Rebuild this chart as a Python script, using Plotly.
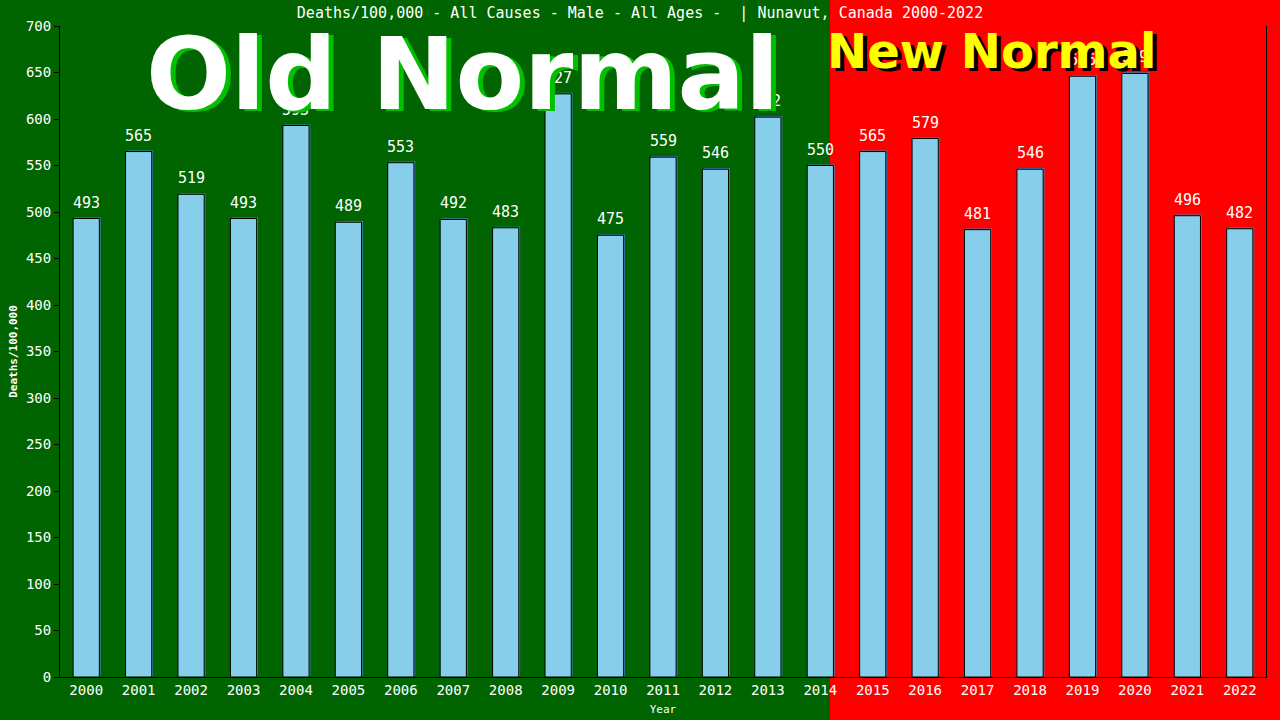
import plotly.graph_objects as go

years = [str(y) for y in range(2000, 2023)]
deaths = [493, 565, 519, 493, 593, 489, 553, 492, 483, 627, 475, 559,
          546, 602, 550, 565, 579, 481, 546, 646, 649, 496, 482]

title = "Deaths/100,000 - All Causes - Male - All Ages -  | Nunavut, Canada 2000-2022"
mono = "DejaVu Sans Mono"

fig = go.Figure()
# thin blue shadow behind each bar
fig.add_trace(go.Bar(x=years, y=deaths, base=1.2, width=0.5, offset=-0.225,
                     marker=dict(color="#4682B4", line=dict(width=0)),
                     hoverinfo="skip", showlegend=False))
fig.add_trace(go.Bar(x=years, y=deaths, width=0.5, offset=-0.25,
                     marker=dict(color="#87CEEB", line=dict(color="black", width=1)),
                     showlegend=False))

# value labels above the bars (category index as x)
for i, v in enumerate(deaths):
    fig.add_annotation(x=i, y=v, text=str(v), showarrow=False, yanchor="bottom",
                       yshift=5, font=dict(family=mono, size=15, color="white"))

# red "new normal" area, from just before the 2015 bar to the right edge
split = (830 - 60) / 1206
fig.add_shape(type="rect", xref="paper", yref="paper", x0=split, x1=1.2,
              y0=-0.2, y1=1.2, fillcolor="#FF0000", line_width=0, layer="below")

def big_text(txt, x, y, size, color, shadow, dx, dy, anchor):
    for c, ox, oy in [(shadow, dx, dy), (color, 0, 0)]:
        fig.add_annotation(text="<b>%s</b>" % txt, xref="paper", yref="paper",
                           x=x, y=y, xanchor=anchor, yanchor="middle",
                           xshift=ox, yshift=-oy, showarrow=False,
                           font=dict(family="DejaVu Sans", size=size, color=c))

big_text("Old Normal", (462 - 60) / 1206, (677 - 74) / 651, 100, "white", "#00C000", 5, 2, "center")
big_text("New Normal", (825 - 60) / 1206, (677 - 51) / 651, 48, "#FFFF00", "black", 4, 3, "left")

fig.update_layout(
    width=1280, height=720,
    margin=dict(l=60, r=14, t=26, b=43),
    paper_bgcolor="#006400", plot_bgcolor="rgba(0,0,0,0)",
    barmode="overlay",
    title=dict(text=title, x=0.5, xanchor="center", y=0.982, yanchor="middle",
               font=dict(family=mono, size=15, color="white")),
    font=dict(family=mono, color="white"),
)
fig.update_xaxes(type="category", automargin=False, showgrid=False, zeroline=False,
                 showline=True, linecolor="black", linewidth=1, ticks="",
                 tickfont=dict(family=mono, size=14, color="white"),
                 title=dict(text="Year", standoff=8,
                            font=dict(family=mono, size=11, color="white")))
fig.update_yaxes(range=[0, 700], dtick=50, automargin=False, showgrid=False,
                 zeroline=False, showline=True, mirror=True, linecolor="black",
                 linewidth=1, ticks="outside", ticklen=5, tickcolor="black",
                 tickfont=dict(family=mono, size=14, color="white"),
                 title=dict(text="<b>Deaths/100,000</b>", standoff=6,
                            font=dict(family=mono, size=11, color="white")))

fig.write_html("out.html", config={"displayModeBar": False},
               post_script="document.body.style.margin='0';")
